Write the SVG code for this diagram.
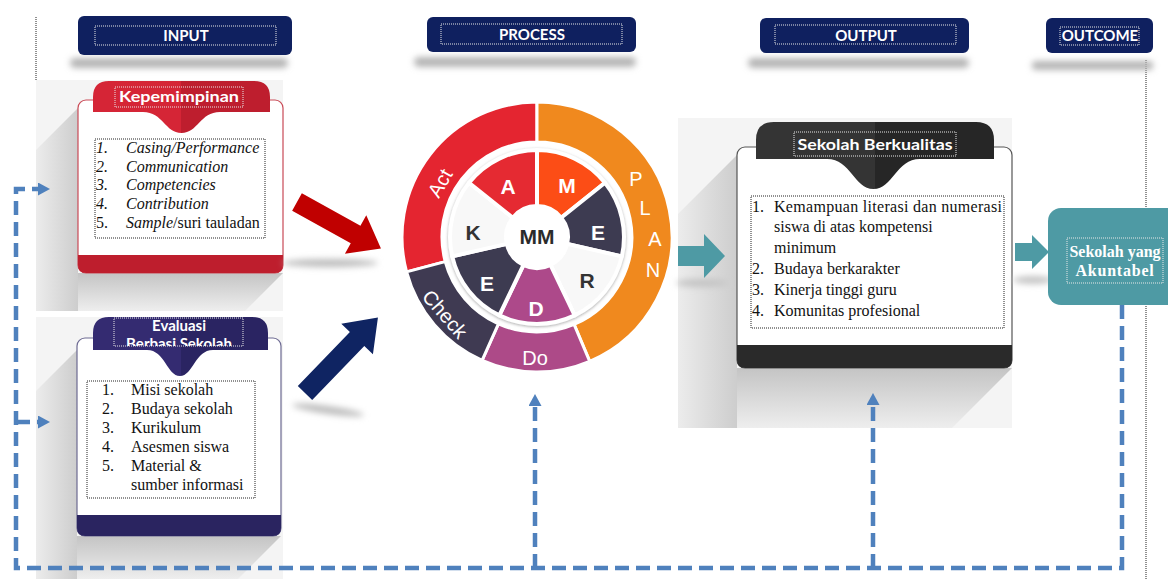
<svg xmlns="http://www.w3.org/2000/svg" width="1168" height="579" viewBox="0 0 1168 579">
  <style>
    .hdr { fill: #0f205f; }
    .hdr-txt { font-family: Lato, "Open Sans", sans-serif; font-weight: 700; font-size: 15px; fill: #ffffff; text-anchor: middle; }
    .dot-w { fill: none; stroke: #e8e8e8; stroke-width: 1; stroke-dasharray: 1 1; }
    .dot-k { fill: none; stroke: #222222; stroke-width: 1; stroke-dasharray: 1 1; }
    .hshadow { fill: #b5b5b5; }
    .panel { fill: #f4f4f4; }
    .card { fill: #ffffff; }
    .tab-txt { font-family: Lato, "Open Sans", sans-serif; font-weight: 700; font-size: 15px; fill: #ffffff; text-anchor: middle; }
    .body { font-family: "Liberation Serif", "Times New Roman", serif; font-size: 16px; fill: #111111; }
    .it { font-style: italic; }
    .seg-txt { font-family: "Liberation Sans", Arial, sans-serif; font-weight: 700; font-size: 21px; text-anchor: middle; }
    .band-txt { font-family: "Liberation Sans", Arial, sans-serif; font-size: 20px; fill: #ffffff; text-anchor: middle; }
    .teal { fill: #4e9aa4; }
    .fb { fill: none; stroke: #4f81bd; stroke-width: 4.5; stroke-dasharray: 14 7; }
  </style>
  <defs>
    <filter id="blur3" x="-20%" y="-100%" width="140%" height="300%">
      <feGaussianBlur stdDeviation="3"/>
    </filter>
    <filter id="petalShadow" x="-20%" y="-20%" width="140%" height="140%">
      <feDropShadow dx="0" dy="1" stdDeviation="1.5" flood-color="#777777" flood-opacity="0.6"/>
    </filter>
    <linearGradient id="shL" x1="1" y1="0" x2="0" y2="0">
      <stop offset="0" stop-color="#cdcdcd"/>
      <stop offset="1" stop-color="#ececec"/>
    </linearGradient>
    <linearGradient id="shB" x1="0" y1="0" x2="0" y2="1">
      <stop offset="0" stop-color="#c4c4c4"/>
      <stop offset="1" stop-color="#eeeeee"/>
    </linearGradient>
    <linearGradient id="tabRed" x1="0" y1="0" x2="1" y2="0">
      <stop offset="0.5" stop-color="#d52536"/>
      <stop offset="0.5" stop-color="#be1e2e"/>
    </linearGradient>
    <linearGradient id="tabIndigo" x1="0" y1="0" x2="1" y2="0">
      <stop offset="0.5" stop-color="#342b71"/>
      <stop offset="0.5" stop-color="#2a2462"/>
    </linearGradient>
    <linearGradient id="tabDark" x1="0" y1="0" x2="1" y2="0">
      <stop offset="0.5" stop-color="#343434"/>
      <stop offset="0.5" stop-color="#262626"/>
    </linearGradient>
    <marker id="ah" viewBox="0 0 12 13" refX="0" refY="6.5" markerWidth="12" markerHeight="13" orient="auto" markerUnits="userSpaceOnUse">
      <path d="M0,0 L12,6.5 L0,13 Z" fill="#4f81bd"/>
    </marker>
    <clipPath id="evalClip">
      <rect x="93" y="317" width="175" height="29"/>
    </clipPath>
  </defs>

  <rect width="1168" height="579" fill="#ffffff"/>

  <!-- column guide lines -->
  <line x1="36" y1="17" x2="36" y2="80" class="dot-k"/>
  <line x1="1146" y1="60" x2="1146" y2="579" class="dot-k"/>

  <!-- column headers -->
  <g id="hdr-input">
    <rect x="70" y="58" width="218" height="10" rx="5" class="hshadow" filter="url(#blur3)"/>
    <rect x="78" y="16" width="214" height="39" rx="6" class="hdr"/>
    <rect x="95" y="26" width="181" height="19" class="dot-w"/>
    <text x="186" y="41" class="hdr-txt">INPUT</text>
  </g>
  <g id="hdr-process">
    <rect x="414" y="57" width="222" height="10" rx="5" class="hshadow" filter="url(#blur3)"/>
    <rect x="427" y="17" width="209" height="35" rx="6" class="hdr"/>
    <rect x="441" y="24" width="181" height="20" class="dot-w"/>
    <text x="532" y="40" class="hdr-txt">PROCESS</text>
  </g>
  <g id="hdr-output">
    <rect x="748" y="58" width="221" height="10" rx="5" class="hshadow" filter="url(#blur3)"/>
    <rect x="760" y="18" width="209" height="35" rx="6" class="hdr"/>
    <rect x="775" y="25" width="181" height="19" class="dot-w"/>
    <text x="866" y="41" class="hdr-txt">OUTPUT</text>
  </g>
  <g id="hdr-outcome">
    <rect x="1032" y="61" width="121" height="9" rx="4" class="hshadow" filter="url(#blur3)"/>
    <rect x="1046" y="18" width="107" height="35" rx="6" class="hdr"/>
    <rect x="1060" y="27" width="79" height="18" class="dot-w"/>
    <text x="1100" y="41" class="hdr-txt" font-size="14">OUTCOME</text>
  </g>

  <!-- Input card: Kepemimpinan -->
  <g id="card-kepemimpinan">
    <rect x="36" y="80" width="247" height="231" class="panel"/>
    <polygon points="78,108 36,150 36,311 78,311" fill="url(#shL)"/>
    <polygon points="78,273 283,273 245,311 78,311" fill="url(#shB)"/>
    <rect x="78" y="100" width="205" height="173" rx="8" class="card" stroke="#c94a56" stroke-width="1.2"/>
    <path d="M78,255 H283 V265 Q283,273 275,273 H86 Q78,273 78,265 Z" fill="#be1e2d"/>
    <path d="M93,112 V97 Q93,81 109,81 H254 Q270,81 270,97 V112 H220 C200,112 198,133 181.5,133 C165,133 163,112 143,112 Z" fill="url(#tabRed)"/>
    <rect x="115" y="87" width="128" height="20" class="dot-w"/>
    <text x="179" y="102" class="tab-txt" textLength="120" lengthAdjust="spacingAndGlyphs">Kepemimpinan</text>
    <rect x="95" y="139" width="170" height="99" class="dot-k"/>
    <g class="body">
      <text x="96" y="153" class="it">1.</text><text x="126" y="153" class="it">Casing/Performance</text>
      <text x="96" y="172" class="it">2.</text><text x="126" y="172" class="it">Communication</text>
      <text x="96" y="190" class="it">3.</text><text x="126" y="190" class="it">Competencies</text>
      <text x="96" y="209" class="it">4.</text><text x="126" y="209" class="it">Contribution</text>
      <text x="96" y="228">5.</text><text x="126" y="228"><tspan font-style="italic">Sample</tspan>/suri tauladan</text>
    </g>
  </g>

  <!-- Input card: Evaluasi Berbasi Sekolah -->
  <g id="card-evaluasi">
    <rect x="36" y="317" width="247" height="262" class="panel"/>
    <polygon points="77,350 36,391 36,579 77,579" fill="url(#shL)"/>
    <polygon points="77,536 281,536 238,579 77,579" fill="url(#shB)"/>
    <rect x="77" y="338" width="204" height="198" rx="8" class="card" stroke="#6d6a92" stroke-width="1.2"/>
    <path d="M77,515 H281 V528 Q281,536 273,536 H85 Q77,536 77,528 Z" fill="#2a2460"/>
    <path d="M93,350 V333 Q93,317 109,317 H252 Q268,317 268,333 V350 H213 C195,350 193,376 180,376 C167,376 165,350 147,350 Z" fill="url(#tabIndigo)"/>
    <rect x="114" y="318" width="129" height="28" class="dot-w"/>
    <g clip-path="url(#evalClip)">
      <text x="179" y="331" class="tab-txt" font-size="14" font-weight="400">Evaluasi</text>
      <text x="179" y="349" class="tab-txt" font-size="14" font-weight="400">Berbasi Sekolah</text>
    </g>
    <rect x="87" y="381" width="168" height="117" class="dot-k"/>
    <g class="body">
      <text x="102" y="395">1.</text><text x="131" y="395">Misi sekolah</text>
      <text x="102" y="414">2.</text><text x="131" y="414">Budaya sekolah</text>
      <text x="102" y="433">3.</text><text x="131" y="433">Kurikulum</text>
      <text x="102" y="452">4.</text><text x="131" y="452">Asesmen siswa</text>
      <text x="102" y="471">5.</text><text x="131" y="471">Material &amp;</text>
      <text x="131" y="490">sumber informasi</text>
    </g>
  </g>

  <!-- arrows from inputs into the cycle -->
  <g id="input-arrows">
    <ellipse cx="330" cy="263" rx="48" ry="4" fill="#bdbdbd" filter="url(#blur3)"/>
    <ellipse cx="328" cy="410" rx="36" ry="4" fill="#bdbdbd" filter="url(#blur3)" transform="rotate(8 328 410)"/>
    <polygon points="0,-10 67,-10 67,-22 96,0 67,22 67,10 0,10" fill="#c00000" transform="translate(297,202) rotate(29)"/>
    <polygon points="0,-10 75,-10 75,-22 105,0 75,22 75,10 0,10" fill="#0f2462" transform="translate(305,393) rotate(-46)"/>
  </g>

  <!-- PDCA cycle with MM core -->
  <g id="cycle">
    <g stroke="#ffffff" stroke-width="3" stroke-linejoin="round">
      <path d="M406.6,271.9 A135,135 0 0 1 537,102 L537,142 A95,95 0 0 0 445.2,261.6 Z" fill="#e42530"/>
      <path d="M537,102 A135,135 0 0 1 589.7,361.3 L574.1,324.4 A95,95 0 0 0 537,142 Z" fill="#f0891e"/>
      <path d="M589.7,361.3 A135,135 0 0 1 482.1,360.3 L498.4,323.8 A95,95 0 0 0 574.1,324.4 Z" fill="#ad4a88"/>
      <path d="M482.1,360.3 A135,135 0 0 1 406.6,271.9 L445.2,261.6 A95,95 0 0 0 498.4,323.8 Z" fill="#3f3a52"/>
    </g>
    <text class="band-txt" transform="translate(440,183) rotate(-60)" y="7">Act</text>
    <text class="band-txt" transform="translate(445,314) rotate(49)" y="7">Check</text>
    <text class="band-txt" x="535" y="365">Do</text>
    <text class="band-txt" x="636" y="186">P</text>
    <text class="band-txt" x="645" y="215">L</text>
    <text class="band-txt" x="655" y="246">A</text>
    <text class="band-txt" x="653" y="277">N</text>

    <g filter="url(#petalShadow)" stroke="#ffffff" stroke-width="4" stroke-linejoin="round">
      <path d="M537,150 A87,87 0 0 1 605,182.8 L561.2,217.7 A31,31 0 0 0 537,206 Z" fill="#fc4d14"/>
      <path d="M605,182.8 A87,87 0 0 1 621.8,256.4 L567.2,243.9 A31,31 0 0 0 561.2,217.7 Z" fill="#3e3a51"/>
      <path d="M621.8,256.4 A87,87 0 0 1 574.7,315.4 L550.5,264.9 A31,31 0 0 0 567.2,243.9 Z" fill="#f8f8f8"/>
      <path d="M574.7,315.4 A87,87 0 0 1 499.3,315.4 L523.5,264.9 A31,31 0 0 0 550.5,264.9 Z" fill="#ad4a8a"/>
      <path d="M499.3,315.4 A87,87 0 0 1 452.2,256.4 L506.8,243.9 A31,31 0 0 0 523.5,264.9 Z" fill="#3e3a51"/>
      <path d="M452.2,256.4 A87,87 0 0 1 469,182.8 L512.8,217.7 A31,31 0 0 0 506.8,243.9 Z" fill="#f8f8f8"/>
      <path d="M469,182.8 A87,87 0 0 1 537,150 L537,206 A31,31 0 0 0 512.8,217.7 Z" fill="#e52b30"/>
      <circle cx="537" cy="237" r="30" fill="#ffffff"/>
    </g>
    <text class="seg-txt" x="567" y="193" fill="#ffffff">M</text>
    <text class="seg-txt" x="598" y="240" fill="#ffffff">E</text>
    <text class="seg-txt" x="587" y="288" fill="#333333">R</text>
    <text class="seg-txt" x="536" y="316" fill="#ffffff">D</text>
    <text class="seg-txt" x="487" y="291" fill="#ffffff">E</text>
    <text class="seg-txt" x="473" y="240" fill="#333333">K</text>
    <text class="seg-txt" x="508" y="194" fill="#ffffff">A</text>
    <text class="seg-txt" x="537" y="244" fill="#2b2b2b" font-size="17">MM</text>
  </g>

  <!-- Output card: Sekolah Berkualitas -->
  <g id="card-output">
    <rect x="678" y="118" width="334" height="310" class="panel"/>
    <polygon points="737,155 678,214 678,428 737,428" fill="url(#shL)"/>
    <polygon points="737,368 1012,368 952,428 737,428" fill="url(#shB)"/>
    <rect x="737" y="147" width="275" height="221" rx="8" class="card" stroke="#555555" stroke-width="1.2"/>
    <path d="M737,345 H1012 V360 Q1012,368 1004,368 H745 Q737,368 737,360 Z" fill="#2a2a2a"/>
    <path d="M756,159 V140 Q756,122 774,122 H976 Q994,122 994,140 V159 H920 C896,159 893,189 873.5,189 C854,189 851,159 827,159 Z" fill="url(#tabDark)"/>
    <rect x="794" y="132" width="162" height="24" class="dot-w"/>
    <text x="875" y="150" class="tab-txt" font-weight="400" textLength="155" lengthAdjust="spacingAndGlyphs">Sekolah Berkualitas</text>
    <rect x="751" y="196" width="253" height="132" class="dot-k"/>
    <g class="body">
      <text x="752" y="212">1.</text><text x="774" y="212" textLength="228" lengthAdjust="spacing">Kemampuan literasi dan numerasi</text>
      <text x="774" y="232">siswa di atas kompetensi</text>
      <text x="774" y="253">minimum</text>
      <text x="752" y="274">2.</text><text x="774" y="274">Budaya berkarakter</text>
      <text x="752" y="295">3.</text><text x="774" y="295">Kinerja tinggi guru</text>
      <text x="752" y="316">4.</text><text x="774" y="316">Komunitas profesional</text>
    </g>
  </g>

  <!-- flow arrows to output and outcome -->
  <g id="flow-arrows">
    <ellipse cx="702" cy="283" rx="26" ry="4" fill="#c4c4c4" filter="url(#blur3)"/>
    <ellipse cx="1033" cy="280" rx="20" ry="4" fill="#c4c4c4" filter="url(#blur3)"/>
    <polygon points="678,246 704,246 704,234 725,256 704,278 704,266 678,266" class="teal"/>
    <polygon points="1015,243 1032,243 1032,235 1049,252 1032,269 1032,261 1015,261" class="teal"/>
  </g>

  <!-- Outcome -->
  <g id="outcome">
    <rect x="1048" y="208" width="140" height="97" rx="13" class="teal"/>
    <rect x="1067" y="238" width="96" height="45" class="dot-w"/>
    <text x="1115" y="257" class="body" font-weight="700" text-anchor="middle" style="fill:#ffffff">Sekolah yang</text>
    <text x="1115" y="276" class="body" font-weight="700" text-anchor="middle" style="fill:#ffffff" letter-spacing="0.8">Akuntabel</text>
  </g>

  <!-- feedback connectors -->
  <g id="feedback">
    <path d="M1122,305 V568 H16 V189 H38" class="fb" marker-end="url(#ah)"/>
    <path d="M16,422 H38" class="fb" marker-end="url(#ah)"/>
    <path d="M535,568 V406" class="fb" marker-end="url(#ah)"/>
    <path d="M873,568 V405" class="fb" marker-end="url(#ah)"/>
  </g>
</svg>
